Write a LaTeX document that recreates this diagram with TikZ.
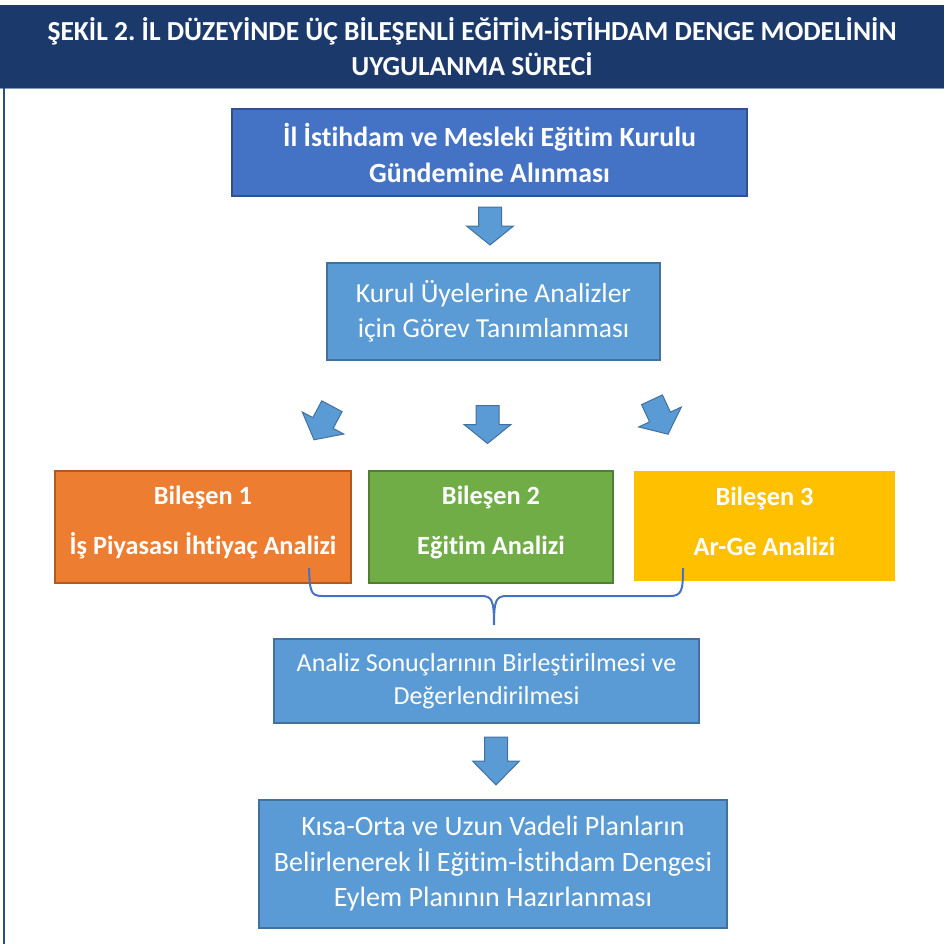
\documentclass[tikz,border=0pt]{standalone}
\usepackage{fontspec}
\setmainfont{Carlito}[Ligatures=NoCommon]
\frenchspacing
\definecolor{navy}{HTML}{1B3A6B}
\definecolor{navyline}{HTML}{7F9CC0}
\definecolor{frame}{HTML}{2B4C8C}
\definecolor{topfill}{HTML}{4472C4}
\definecolor{topline}{HTML}{2F528F}
\definecolor{bluefill}{HTML}{5B9BD5}
\definecolor{blueline}{HTML}{41719C}
\definecolor{orfill}{HTML}{ED7D31}
\definecolor{orline}{HTML}{AE5A21}
\definecolor{grfill}{HTML}{70AD47}
\definecolor{grline}{HTML}{507E32}
\definecolor{yefill}{HTML}{FFC000}
\definecolor{bracecol}{HTML}{4472C4}
\begin{document}
\begin{tikzpicture}[x=1pt,y=-1pt,
  hdr/.style={rectangle, inner sep=0pt, fill=navy, text=white, align=center,
    minimum width=944pt, minimum height=83pt,
    font=\bfseries\fontsize{27.5}{35}\selectfont},
  box/.style={rectangle, inner sep=0pt, align=center, text=white, line width=1.2pt,
    font=\fontsize{27.5}{35.5}\selectfont},
  boldbox/.style={box, font=\bfseries\fontsize{27.8}{36}\selectfont},
  btext/.style={inner sep=0pt, align=center, text=white, font=\bfseries\fontsize{26.3}{35}\selectfont},
  blockarrow/.pic={\path[fill=bluefill, draw=blueline, line width=1pt]
    (-11.5,-19) -- (11.5,-19) -- (11.5,0) -- (23.5,0) -- (0,19) -- (-23.5,0) -- (-11.5,0) -- cycle;}
]
\useasboundingbox (0,0) rectangle (944,944);
% header
\node[hdr] (header) at (472,46.5) {ŞEKİL 2. İL DÜZEYİNDE ÜÇ BİLEŞENLİ EĞİTİM-İSTİHDAM DENGE MODELİNİN\\UYGULANMA SÜRECİ};
\draw[navyline, line width=1pt] (header.south west) -- (header.south east);
\draw[frame, line width=2pt] (4,88) -- (4,944);
% boxes
\node[boldbox, fill=topfill, draw=topline, minimum width=515pt, minimum height=87pt] (gundem) at (489.5,152.5)
  {İl İstihdam ve Mesleki Eğitim Kurulu\\Gündemine Alınması};
\node[box, fill=bluefill, draw=blueline, minimum width=333pt, minimum height=97pt] (kurul) at (493.5,311.5)
  {Kurul Üyelerine Analizler\\için Görev Tanımlanması};
\node[box, fill=orfill, draw=orline, minimum width=296pt, minimum height=112pt] (b1) at (203,527) {};
\node[box, fill=grfill, draw=grline, minimum width=244pt, minimum height=112pt] (b2) at (491,527) {};
\node[box, fill=yefill, minimum width=261pt, minimum height=110pt] (b3) at (764.5,526) {};
\node[btext] (t1) at ([yshift=5pt]b1.center) {Bileşen 1\\[15pt]İş Piyasası İhtiyaç Analizi};
\node[btext] (t2) at ([yshift=5pt]b2.center) {Bileşen 2\\[15pt]Eğitim Analizi};
\node[btext] (t3) at ([yshift=5pt]b3.center) {Bileşen 3\\[15pt]Ar-Ge Analizi};
\node[box, fill=bluefill, draw=blueline, minimum width=425pt, minimum height=84pt,
  font=\fontsize{26}{33}\selectfont] (analiz) at (486.5,681)
  {Analiz Sonuçlarının Birleştirilmesi ve\\Değerlendirilmesi};
\node[box, fill=bluefill, draw=blueline, minimum width=468pt, minimum height=128pt,
  font=\fontsize{28}{35.5}\selectfont] (plan) at (493,864)
  {Kısa-Orta ve Uzun Vadeli Planların\\Belirlenerek İl Eğitim-İstihdam Dengesi\\Eylem Planının Hazırlanması};
% block arrows
\pic (a1) at (490,226) {blockarrow};
\pic[rotate=-28] (a2) at (323,423) {blockarrow};
\pic (a3) at (487.5,424.5) {blockarrow};
\pic[rotate=25] (a4) at (660,417) {blockarrow};
\pic[yscale=1.26] (a5) at (496,761) {blockarrow};
% brace
\draw[bracecol, line width=2pt] (309,568) .. controls (310,590) and (310,596) .. (322,596) -- (481,596)
  .. controls (492,596) and (494,600) .. (494,625)
  .. controls (494,600) and (496,596) .. (507,596) -- (670,596)
  .. controls (682,596) and (683,590) .. (683,568);
\end{tikzpicture}
\end{document}
